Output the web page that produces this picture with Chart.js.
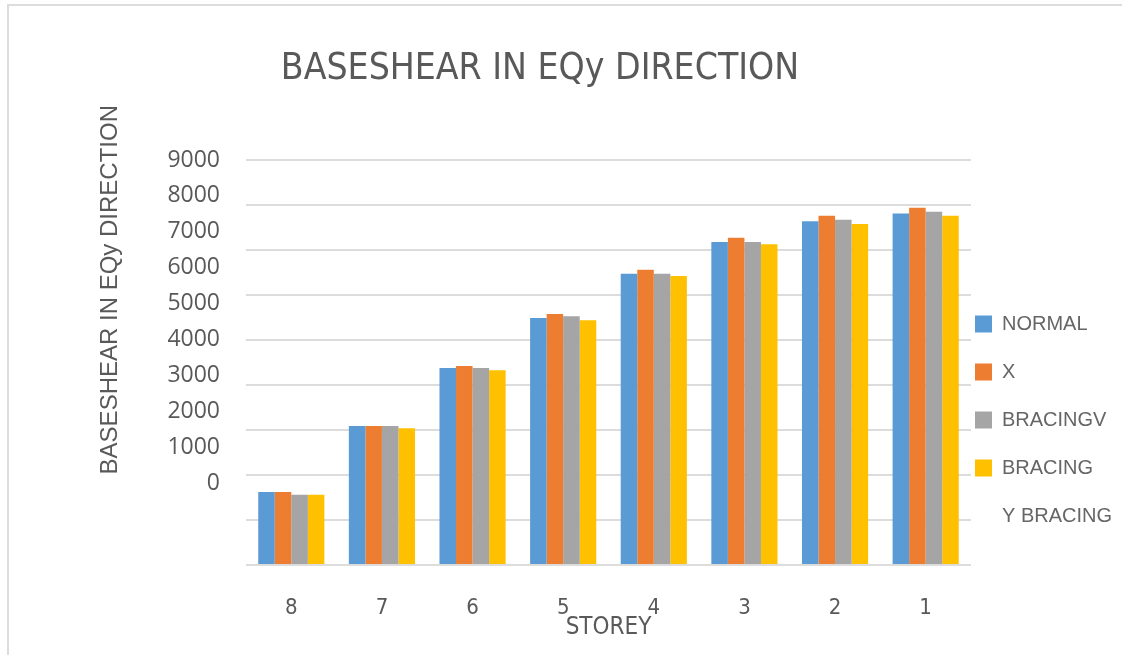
<!DOCTYPE html>
<html>
<head>
<meta charset="utf-8">
<title>Baseshear in EQy direction</title>
<script src="https://cdn.jsdelivr.net/npm/chart.js"></script>
<style>
  body { margin: 0; background: #fff; overflow: hidden; }
  #wrap { position: relative; width: 1122px; height: 655px; }
  #frame {
    position: absolute; left: 7px; top: 4px; right: 0; bottom: 0;
    border-top: 2px solid #dcdcdc; border-left: 2px solid #dcdcdc;
    pointer-events: none;
  }
  #chartTitle {
    position: absolute; left: 0; top: 46px; width: 1080px;
    text-align: center; line-height: 42px;
    font-family: 'Liberation Sans Narrow', 'DejaVu Sans Condensed', sans-serif;
    font-size: 37px; color: #595959;
  }
</style>
</head>
<body>
<div id="wrap">
  <canvas id="baseShearChart" width="1122" height="655"></canvas>
  <div id="frame"></div>
  <div id="chartTitle">BASESHEAR IN EQy DIRECTION</div>
</div>
<script>
// storeys from top to bottom, as in the sheet
const storeys = ['8', '7', '6', '5', '4', '3', '2', '1'];

// base shear values per bracing type
const normalValues   = [1620, 3090, 4380, 5490, 6470, 7180, 7640, 7810];
const xValues        = [1620, 3090, 4420, 5580, 6560, 7270, 7760, 7940];
const bracingVValues = [1560, 3090, 4380, 5530, 6470, 7180, 7670, 7850];
const bracingValues  = [1560, 3040, 4330, 5440, 6420, 7130, 7580, 7760];

const seriesNames = ['NORMAL', 'X', 'BRACINGV', 'BRACING'];
const extraLegendText = 'Y BRACING';

// gridlines and the (shifted) tick labels of the original
const gridValues = [0, 1000, 2000, 3000, 4000, 5000, 6000, 7000, 8000, 9000];
const tickLabels = [0, 1000, 2000, 3000, 4000, 5000, 6000, 7000, 8000, 9000];

const colors = ['#5B9BD5', '#ED7D31', '#A5A5A5', '#FFC000'];
const textColor = '#595959';
const narrow = "'Liberation Sans Narrow', 'DejaVu Sans Condensed', sans-serif";

document.addEventListener("DOMContentLoaded", function() {
    const seriesValues = [normalValues, xValues, bracingVValues, bracingValues];

    const datasets = seriesNames.map((name, i) => ({
        label: name,
        data: seriesValues[i],
        backgroundColor: colors[i],
        borderWidth: 0,
        barPercentage: 1,
        categoryPercentage: 0.73
    }));

    new Chart(document.getElementById("baseShearChart"), {
        type: 'bar',
        data: { labels: storeys, datasets: datasets },
        options: {
            responsive: false,
            animation: false,
            layout: { padding: { left: 94, right: 0, top: 105, bottom: 13 } },
            scales: {
                x: {
                    afterFit: axis => { axis.height = 77; },
                    grid: { display: false, drawTicks: false },
                    border: { display: false },
                    ticks: { padding: 30, color: textColor, font: { family: narrow, size: 22 } },
                    title: {
                        display: true, text: 'STOREY', color: textColor,
                        padding: { top: -2, bottom: 0 },
                        font: { family: narrow, size: 24 }
                    }
                },
                y: {
                    position: 'left',
                    min: 0,
                    max: 10222,
                    afterBuildTicks: axis => { axis.ticks = gridValues.map(v => ({ value: v })); },
                    afterFit: axis => { axis.width = 0; },
                    grid: { color: '#dcdcdc', lineWidth: 2, drawTicks: false },
                    border: { display: false },
                    ticks: { display: false }
                },
                yLabels: {
                    position: 'left',
                    min: -2285,
                    max: 10532,
                    afterBuildTicks: axis => { axis.ticks = tickLabels.map(v => ({ value: v })); },
                    afterFit: axis => { axis.width = 152; },
                    grid: { display: false, drawTicks: false },
                    border: { display: false },
                    ticks: {
                        padding: 26, color: textColor,
                        font: { family: "'Open Sans', sans-serif", size: 23 },
                        callback: v => String(v)
                    },
                    title: {
                        display: true, text: 'BASESHEAR IN EQy DIRECTION', color: textColor,
                        align: 'end',
                        padding: { top: 1.6, bottom: 0 },
                        font: { family: "'Liberation Sans', sans-serif", size: 24 }
                    }
                }
            },
            plugins: {
                tooltip: { enabled: false },
                legend: {
                    position: 'right',
                    align: 'start',
                    title: { display: true, text: '', padding: { top: 0, bottom: 190.6 } },
                    labels: {
                        color: textColor,
                        font: { family: "'Liberation Sans', sans-serif", size: 20 },
                        boxWidth: 17,
                        boxHeight: 17,
                        padding: 4,
                        generateLabels: function(chart) {
                            const blank = { text: '', fillStyle: 'rgba(0,0,0,0)', strokeStyle: 'rgba(0,0,0,0)', lineWidth: 0, hidden: false };
                            const items = [];
                            chart.data.datasets.forEach((ds, i) => {
                                items.push({ text: ds.label, fillStyle: ds.backgroundColor, strokeStyle: ds.backgroundColor,
                                             lineWidth: 0, hidden: false, datasetIndex: i });
                                items.push(Object.assign({}, blank));
                            });
                            items.push(Object.assign({}, blank, { text: extraLegendText }));
                            return items;
                        }
                    }
                }
            }
        }
    });
});
</script>
</body>
</html>
